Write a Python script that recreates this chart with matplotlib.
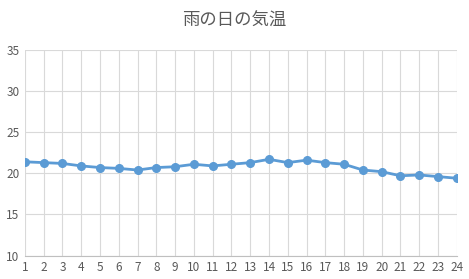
import matplotlib.pyplot as plt

plt.rcParams['font.family'] = ['Noto Sans CJK JP', 'DejaVu Sans']

# データ
hours = list(range(1, 25))
temps = [21.4, 21.3, 21.2, 20.9, 20.7, 20.6, 20.4, 20.7, 20.8, 21.1, 20.9, 21.1,
         21.3, 21.7, 21.3, 21.6, 21.3, 21.1, 20.4, 20.2, 19.7, 19.8, 19.6, 19.4]
yticks = [10, 15, 20, 25, 30, 35]

fig = plt.figure(figsize=(4.69, 2.79), dpi=100)
ax = fig.add_axes([0.053, 0.084, 0.921, 0.737])

ax.plot(hours, temps, color='#5B9BD5', linewidth=2, marker='o', markersize=5.5)

ax.set_xlim(1, 24)
ax.set_ylim(10, 35)
ax.set_xticks(hours)
ax.set_yticks(yticks)
ax.grid(True, color='#D9D9D9', linewidth=0.8)
ax.set_axisbelow(True)

for side in ['top', 'right', 'left']:
    ax.spines[side].set_visible(False)
ax.spines['bottom'].set_color('#BFBFBF')
ax.tick_params(length=0, labelsize=8.5, labelcolor='#595959', pad=4)

fig.text(0.5, 0.925, '雨の日の気温', ha='center', va='center', fontsize=12.5, color='#595959')

plt.savefig('out.png')
